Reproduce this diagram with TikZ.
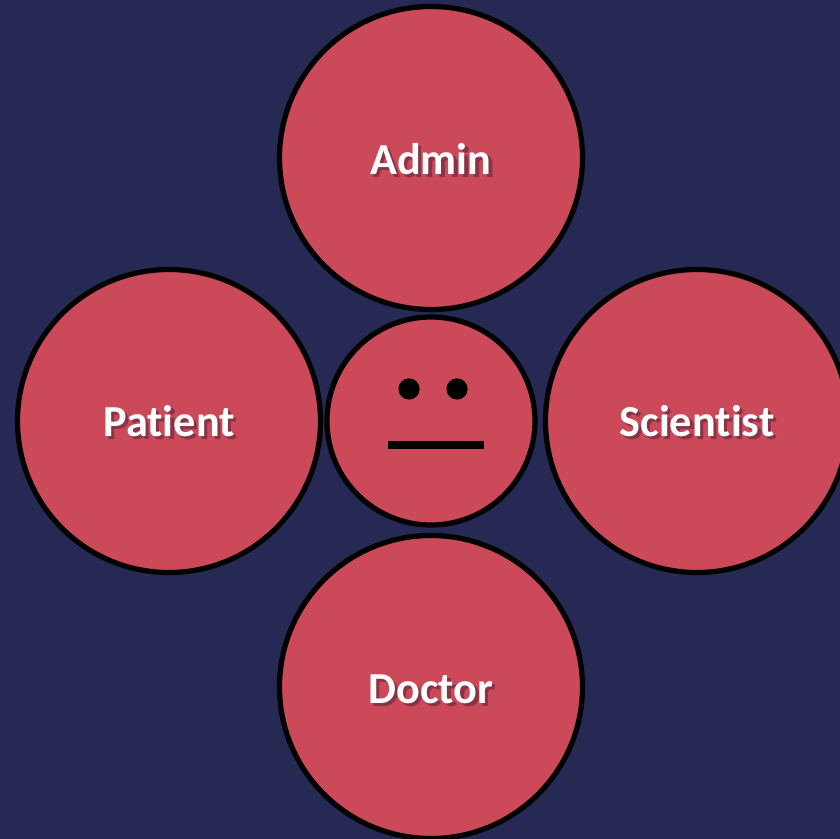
\documentclass[tikz,border=0pt]{standalone}
\usepackage{fontspec}
\setmainfont[Ligatures=NoCommon]{Carlito}
\usetikzlibrary{positioning}
\definecolor{bgnavy}{RGB}{37,41,84}
\definecolor{rolered}{RGB}{204,73,90}
\definecolor{shadowred}{RGB}{92,38,58}
\tikzset{
  rolecircle/.style={circle, draw=black, fill=rolered, line width=0.13cm, inner sep=0pt, minimum size=7.575cm},
  facecircle/.style={rolecircle, minimum size=5.2cm},
  eyedot/.style={circle, fill=black, inner sep=0pt, minimum size=0.53cm},
  rolelabel/.style={text=white, font=\fontsize{31.5}{36}\selectfont\bfseries},
  roleshadow/.style={rolelabel, text=shadowred, opacity=0.6, xshift=0.08cm, yshift=-0.08cm}
}
\newcommand{\rolename}[3]{%
  \node[roleshadow] (#1shadow) at ([yshift=#3]#1.center) {#2};
  \node[rolelabel] (#1label) at ([yshift=#3]#1.center) {#2};}
\begin{document}
\begin{tikzpicture}
  \useasboundingbox (0,0) rectangle (21,20.975);
  \clip (0,0) rectangle (21,20.975);
  \fill[bgnavy] (0,0) rectangle (21,20.975);

  \node[rolecircle] (admin) at (10.775,17.025) {};
  \node[rolecircle] (patient) at (4.225,10.45) {};
  \node[rolecircle] (scientist) at (17.425,10.45) {};
  \node[rolecircle] (doctor) at (10.775,3.8) {};
  \node[facecircle] (face) at (10.775,10.45) {};

  \rolename{admin}{Admin}{-0.02cm}
  \rolename{patient}{Patient}{0cm}
  \rolename{scientist}{Scientist}{0cm}
  \rolename{doctor}{Doctor}{-0.05cm}

  \node[eyedot] (lefteye) at (10.225,11.25) {};
  \node[eyedot] (righteye) at (11.425,11.25) {};
  \coordinate (mouthl) at (9.7,9.85);
  \coordinate (mouthr) at (12.1,9.85);
  \draw[line width=0.2cm] (mouthl) -- (mouthr);
\end{tikzpicture}
\end{document}
